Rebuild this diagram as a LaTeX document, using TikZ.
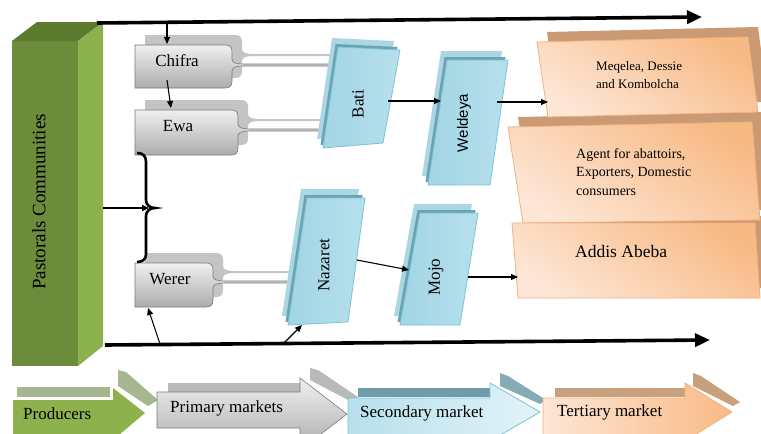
\documentclass[tikz,border=0pt]{standalone}
\usepackage{fontspec}
\setmainfont{Liberation Serif}
\newfontfamily\labelsans{Liberation Sans}
\usetikzlibrary{arrows.meta}

\definecolor{greenfront}{HTML}{6C8B3B}
\definecolor{greenside}{HTML}{8CB24F}
\definecolor{greentop}{HTML}{5B7A2E}
\definecolor{prodgreen}{HTML}{8DB14C}
\definecolor{prodback}{HTML}{A6B68F}
\definecolor{grayedge}{HTML}{7A7A7A}
\definecolor{grayback}{HTML}{C4C4C4}
\definecolor{bluepale}{HTML}{ABD7E4}
\definecolor{bluedark}{HTML}{6BA3B3}
\definecolor{blueedge}{HTML}{7CC3D8}
\definecolor{blueA}{HTML}{A2D5E4}
\definecolor{blueB}{HTML}{E2F3F8}
\definecolor{blueC}{HTML}{B7E0EC}
\definecolor{orangeedge}{HTML}{F3B07F}
\definecolor{orangeA}{HTML}{F8BA85}
\definecolor{orangeB}{HTML}{FDE6D5}
\definecolor{orangeback}{HTML}{C99A73}
\definecolor{slateback}{HTML}{6F9CA8}
\definecolor{tanback}{HTML}{C8A07E}

% funnel-shaped market box: width, height, neck offset, neck end
\newcommand\funnelpath[4]{(0,0) -- ({#1-7},0) .. controls ({#1-2},0) and (#1,2) .. (#1,7)
  -- (#1,{#3-6}) .. controls (#1,{#3-2}) and ({#1+5},{#3-1}) .. ({#1+12},{#3-1})
  -- (#4,{#3-1}) -- (#4,{#3+1}) -- ({#1+12},{#3+1})
  .. controls ({#1+5},{#3+1}) and (#1,{#3+2}) .. (#1,{#3+6})
  -- (#1,{#2-7}) .. controls (#1,{#2-2}) and ({#1-2},#2) .. ({#1-7},#2) -- (0,#2) -- cycle}

% layered slanted market box (four corners of the front face)
\newcommand\bluepg[4]{%
  \begin{scope}[shift={(-6,-9)}]\fill[bluepale] (#1) -- (#2) -- (#3) -- (#4) -- cycle;\end{scope}
  \begin{scope}[shift={(-2.5,-3)}]\fill[bluedark] (#1) -- (#2) -- (#3) -- (#4) -- cycle;\end{scope}
  \shade[left color=blueA, middle color=blueB, right color=blueC] (#1) -- (#2) -- (#3) -- (#4) -- cycle;
  \draw[blueedge, line width=0.8pt] (#1) -- (#2) -- (#3) -- (#4) -- cycle;}

\newcommand\orangeback[4]{%
  \begin{scope}[shift={(10,-10)}]\fill[orangeback] (#1) -- (#2) -- (#3) -- (#4) -- cycle;\end{scope}}
\newcommand\orangefront[4]{%
  \shade[top color=orangeA, bottom color=orangeB, shading angle=-35] (#1) -- (#2) -- (#3) -- (#4) -- cycle;
  \draw[orangeedge, line width=0.8pt] (#1) -- (#2) -- (#3) -- (#4) -- cycle;}

\begin{document}
\begin{tikzpicture}[x=1pt,y=-1pt,
  conn/.style={line width=1.1pt,-{Triangle[length=7pt,width=6pt]}},
  flowline/.style={line width=3.6pt,-{Triangle[length=15pt,width=13pt]}},
  lbl/.style={inner sep=0pt,font=\fontsize{17}{20}\selectfont},
  smalllbl/.style={inner sep=0pt,align=left,font=\fontsize{13}{17.5}\selectfont},
  midlbl/.style={inner sep=0pt,align=left,font=\fontsize{14}{18.5}\selectfont},
  grayfront/.style={top color=gray!12, bottom color=gray!65, draw=grayedge, line width=0.6pt},
  grayrear/.style={fill=grayback},
]
\useasboundingbox (0,0) rectangle (761,434);
\clip (0,0) rectangle (761,434);

% ---- producers block -------------------------------------------------
\fill[greenfront] (12,41) -- (78,41) -- (78,366) -- (12,366) -- cycle;
\fill[greentop] (12,41) -- (37,22) -- (103,22) -- (78,41) -- cycle;
\fill[greenside] (78,41) -- (103,22) -- (103,346) -- (78,366) -- cycle;
\node[lbl, font=\fontsize{19}{22}\selectfont, rotate=90] (past) at (39,202) {Pastorals Communities};
\coordinate (pastTop) at (97,23);
\coordinate (pastBot) at (105,345);
\coordinate (pastMid) at (103,208);

% ---- flow lines --------------------------------------------------------
\coordinate (topEnd) at (702,17);
\coordinate (botEnd) at (710,340);
\draw[flowline] (pastTop) -- (topEnd);
\draw[flowline] (pastBot) -- (botEnd);

% ---- primary markets ---------------------------------------------------
\begin{scope}[shift={(145,35)}]\fill[grayrear] \funnelpath{97}{43}{20}{200};\end{scope}
\begin{scope}[shift={(135,45)}]\path[grayfront] \funnelpath{97}{43}{20}{200};\end{scope}
\node[lbl] (chifra) at (177,61) {Chifra};

\begin{scope}[shift={(145,100)}]\fill[grayrear] \funnelpath{103}{45}{20}{177};\end{scope}
\begin{scope}[shift={(135,110)}]\path[grayfront] \funnelpath{103}{45}{20}{187};\end{scope}
\node[lbl] (ewa) at (178,126) {Ewa};

\begin{scope}[shift={(145,253)}]\fill[grayrear] \funnelpath{78}{44}{19}{145};\end{scope}
\begin{scope}[shift={(135,263)}]\path[grayfront] \funnelpath{78}{44}{19}{155};\end{scope}
\node[lbl] (werer) at (170,279) {Werer};

% brace gathering the primary markets
\draw[line width=2.6pt] (137,153) .. controls (143,153) and (146,156) .. (146,162) -- (146,200)
  .. controls (146,205) and (150,208) .. (155,208) .. controls (150,208) and (146,211) .. (146,216)
  -- (146,254) .. controls (146,259) and (143,262) .. (137,262);
\coordinate (brace) at (149,208);

% ---- secondary markets -------------------------------------------------
\bluepg{338,47}{400,50}{383,143}{323,148}
\node[lbl, rotate=90] (bati) at (358,104) {Bati};
\bluepg{447,60}{508,60}{490,185}{428,185}
\node[lbl, font=\labelsans\fontsize{15}{18}\selectfont, rotate=90] (weldeya) at (464,123) {Weldeya};
\bluepg{307,198}{365,198}{348,322}{288,325}
\node[lbl, rotate=90] (nazaret) at (324,265) {Nazaret};
\bluepg{420,213}{478,213}{460,325}{400,325}
\node[lbl, rotate=90] (mojo) at (436,277) {Mojo};

% ---- tertiary markets --------------------------------------------------
\orangeback{537,42}{748,37}{758,112}{548,117}
\orangeback{508,127}{752,122}{760,220}{523,223}
\orangeback{512,226}{755,226}{760,298}{518,298}
\orangefront{537,42}{748,37}{758,112}{548,117}
\orangefront{508,127}{752,122}{760,220}{523,223}
\orangefront{512,223}{755,223}{760,298}{518,298}
\node[smalllbl, anchor=west] (meq) at (596,75) {Meqelea, Dessie\\and Kombolcha};
\node[midlbl, anchor=west] (agent) at (576,172) {Agent for abattoirs,\\Exporters, Domestic\\consumers};
\node[lbl, font=\fontsize{17.5}{20}\selectfont, anchor=west] (addis) at (575,252) {Addis Abeba};

% ---- connectors --------------------------------------------------------
\coordinate (chifraTop) at (167,23);
\coordinate (chifraIn) at (167,44);
\coordinate (chifraOut) at (167,80);
\coordinate (ewaIn) at (171,108);
\coordinate (wererFoot) at (160,344);
\coordinate (wererIn) at (148,308);
\coordinate (nazFoot) at (283,344);
\coordinate (nazIn) at (302,325);
\coordinate (batiOut) at (388,101);
\coordinate (weldIn) at (441,101);
\coordinate (weldOut) at (497,102);
\coordinate (meqIn) at (548,102);
\coordinate (nazOut) at (357,260);
\coordinate (mojoIn) at (409,270);
\coordinate (mojoOut) at (468,277);
\coordinate (addisIn) at (518,277);

\draw[conn] (chifraTop) -- (chifraIn);
\draw[conn] (chifraOut) -- (ewaIn);
\draw[conn] (pastMid) -- (brace);
\draw[conn] (wererFoot) -- (wererIn);
\draw[conn] (nazFoot) -- (nazIn);
\draw[conn] (batiOut) -- (weldIn);
\draw[conn] (weldOut) -- (meqIn);
\draw[conn] (nazOut) -- (mojoIn);
\draw[conn] (mojoOut) -- (addisIn);

% ---- legend arrows -----------------------------------------------------
\fill[prodback] (17,387) rectangle (110,397);
\fill[prodback] (118,370) -- (126,372) -- (158,400) -- (148,406) -- (118,386) -- cycle;
\fill[prodgreen] (13,400) -- (113,400) -- (113,388) -- (145,413) -- (113,440) -- (113,440) -- (13,440) -- cycle;
\node[lbl, anchor=west] (producers) at (23,414) {Producers};

\fill[gray!55] (168,383) rectangle (300,392);
\fill[gray!55] (310,368) -- (318,370) -- (358,397) -- (350,401) -- (310,380) -- cycle;
\path[grayfront] (157,392) -- (300,392) -- (300,378) -- (347,414) -- (300,450) -- (300,428) -- (157,428) -- cycle;
\node[lbl, anchor=west] (primary) at (170,408) {Primary markets};

\fill[slateback] (358,388) rectangle (490,397);
\fill[slateback!85!white] (500,373) -- (508,376) -- (546,400) -- (540,404) -- (500,386) -- cycle;
\shade[left color=blueC, right color=blueB] (348,398) -- (490,398) -- (490,383) -- (540,412) -- (490,441) -- (490,440) -- (348,440) -- cycle;
\draw[blueedge, line width=0.8pt] (348,440) -- (348,398) -- (490,398) -- (490,383) -- (540,412) -- (490,441);
\node[lbl, anchor=west] (secondary) at (360,413) {Secondary market};

\fill[tanback] (555,388) rectangle (685,397);
\fill[tanback] (693,373) -- (701,376) -- (740,402) -- (733,406) -- (693,386) -- cycle;
\shade[left color=orangeB, right color=orangeA] (543,398) -- (685,398) -- (685,383) -- (732,412) -- (685,441) -- (685,440) -- (543,440) -- cycle;
\draw[orangeedge, line width=0.8pt] (543,440) -- (543,398) -- (685,398) -- (685,383) -- (732,412) -- (685,441);
\node[lbl, anchor=west] (tertiary) at (557,412) {Tertiary market};
\end{tikzpicture}
\end{document}
